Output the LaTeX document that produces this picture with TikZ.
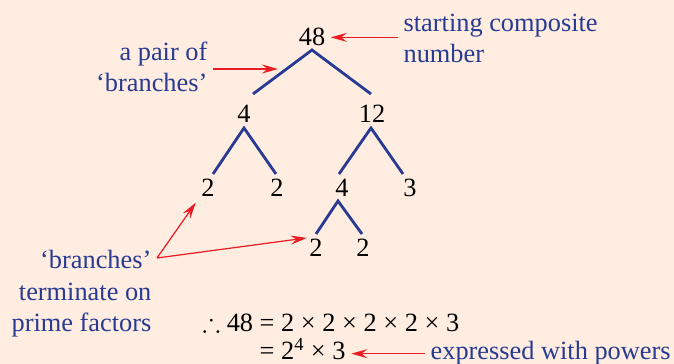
\documentclass[tikz,border=0pt]{standalone}
\usepackage{amssymb}
\usepackage{fontspec}
\setmainfont{Liberation Serif}
\usetikzlibrary{arrows.meta}

\definecolor{peach}{RGB}{254,237,224}
\definecolor{treeblue}{RGB}{40,58,145}
\definecolor{pointred}{RGB}{236,28,36}

\begin{document}
\begin{tikzpicture}[
    x=0.02cm, y=-0.02cm,
    font=\fontsize{15}{18}\selectfont,
    num/.style={
        inner sep=3pt,
        anchor=base
    },
    note/.style={
        inner sep=3pt,
        text=treeblue
    },
    eqn/.style={
        inner sep=3pt,
        anchor=base west
    },
    branch/.style={draw=treeblue, line width=1.6pt},
    pointer/.style={draw=pointred, line width=0.7pt,
        -{Stealth[length=3.2mm,width=1.8mm,inset=1.1mm]}}
]

% background
\useasboundingbox (0,0) rectangle (674,364);
\fill[peach] (0,0) rectangle (674,364);

% factor tree
\node[num] (n48) at (312,46) {48};
\node[num] (n4) at (244,123) {4};
\node[num] (n12) at (372,123) {12};
\node[num] (n2a) at (208,197) {2};
\node[num] (n2b) at (277,197) {2};
\node[num] (n4b) at (342,197) {4};
\node[num] (n3) at (410,197) {3};
\node[num] (n2c) at (316,257) {2};
\node[num] (n2d) at (363,257) {2};

% branches
\draw[branch] (n48.base) ++(-59,48) -- ++(59,-44) -- ++(59,44);
\draw[branch] (n4.base) ++(-31,51) -- ++(31,-46) -- ++(32,46);
\draw[branch] (n12.base) ++(-33,51) -- ++(32,-46) -- ++(32,46);
\draw[branch] (n4b.base) ++(-26,37) -- ++(22,-33) -- ++(24,33);

% labels (base = last line)
\node[note, anchor=base west, align=left] (start) at (398,63) {starting composite\\number};
\node[note, anchor=base east, align=right] (pair) at (213,92) {a pair of\\`branches'};
\node[note, anchor=base east, align=right] (term) at (157,332) {`branches'\\terminate on\\prime factors};

% result
\node[eqn] (eq1) at (197,332) {$\therefore$ 48 = 2 × 2 × 2 × 2 × 3};
\node[eqn] (eq2) at (254,360) {= 2\textsuperscript{4} × 3};
\node[note, anchor=base west] (expr) at (425,360) {expressed with powers};

% pointers
\coordinate (pairtip) at (278,69);
\coordinate (fork) at (157,258);
\draw[pointer] (start.west |- n48.east) -- (n48.east);
\draw[pointer] (pair.east |- pairtip) -- (pairtip);
\draw[pointer] (fork) -- (n2a.south west);
\draw[pointer] (fork) -- ([shift={(3,4)}]n2c.north west);
\draw[pointer] (expr.west) -- (eq2.east |- expr.west);

\end{tikzpicture}
\end{document}
